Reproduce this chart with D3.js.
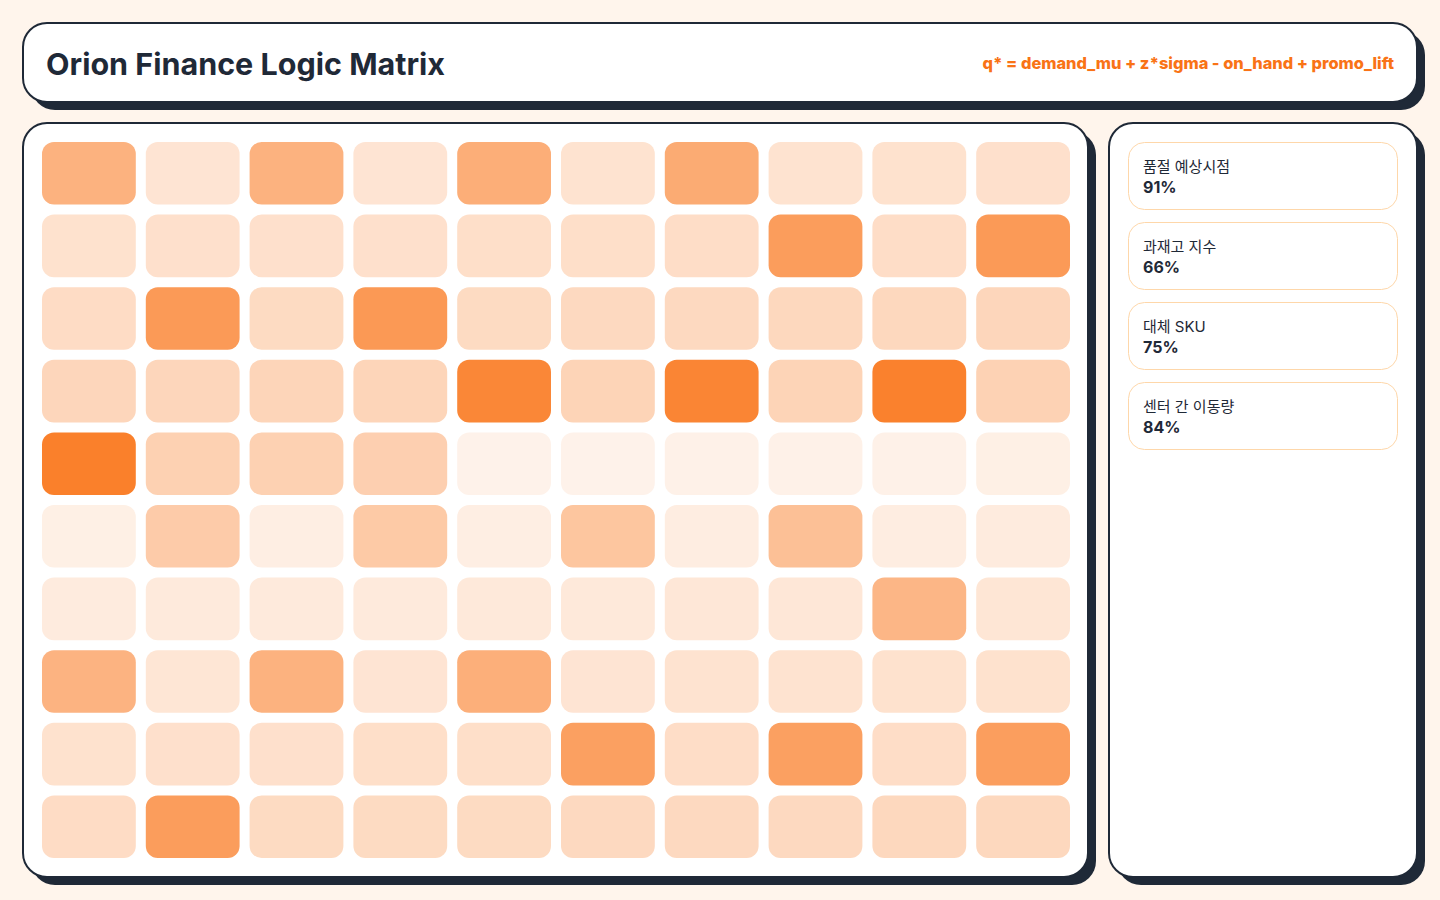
<!DOCTYPE html>
<html>
<head>
<meta charset="utf-8">
<script src="https://cdn.jsdelivr.net/npm/d3@7"></script>
<style>
  html, body { margin: 0; padding: 0; background: #fff5ec; }
  svg { display: block; font-family: Inter, "Noto Sans CJK KR", sans-serif; }
</style>
</head>
<body>
<div id="chart"></div>
<script>
// chart data
const title = "Orion Finance Logic Matrix";
const formula = "q* = demand_mu + z*sigma - on_hand + promo_lift";

const rowIds = d3.range(10);
const colIds = d3.range(10);

// intensity per cell, row by row (0..1)
const cellValues = [
  0.55, 0.19, 0.55, 0.19, 0.58, 0.20, 0.60, 0.20, 0.21, 0.22,
  0.21, 0.22, 0.22, 0.22, 0.23, 0.23, 0.24, 0.70, 0.24, 0.72,
  0.25, 0.72, 0.26, 0.73, 0.26, 0.27, 0.27, 0.28, 0.28, 0.29,
  0.29, 0.29, 0.30, 0.30, 0.86, 0.31, 0.87, 0.31, 0.90, 0.32,
  0.91, 0.33, 0.33, 0.34, 0.09, 0.09, 0.10, 0.10, 0.10, 0.11,
  0.11, 0.37, 0.12, 0.38, 0.12, 0.41, 0.13, 0.45, 0.13, 0.14,
  0.14, 0.15, 0.15, 0.15, 0.16, 0.16, 0.17, 0.17, 0.52, 0.18,
  0.54, 0.18, 0.55, 0.19, 0.57, 0.19, 0.20, 0.20, 0.21, 0.21,
  0.21, 0.22, 0.22, 0.23, 0.23, 0.68, 0.24, 0.68, 0.24, 0.69,
  0.25, 0.70, 0.26, 0.26, 0.26, 0.27, 0.27, 0.27, 0.28, 0.28
];

const kpiLabels = ["품절 예상시점", "과재고 지수", "대체 SKU", "센터 간 이동량"];
const kpiValues = [91, 66, 75, 84];

const W = 1440, H = 900;
const ink = "#1f2937";
const orange = "#f97316";

const svg = d3.select("#chart").append("svg")
  .attr("width", W)
  .attr("height", H);

svg.append("rect").attr("width", W).attr("height", H).attr("fill", "#fff5ec");

// card with hard offset shadow
function card(x, y, w, h, r) {
  const g = svg.append("g");
  g.append("rect")
    .attr("x", x + 8).attr("y", y + 8)
    .attr("width", w).attr("height", h)
    .attr("rx", r)
    .attr("fill", ink);
  g.append("rect")
    .attr("x", x).attr("y", y)
    .attr("width", w).attr("height", h)
    .attr("rx", r)
    .attr("fill", "#fff")
    .attr("stroke", ink)
    .attr("stroke-width", 2);
  return g;
}

// header
const header = card(23, 23, 1394, 79, 24);
header.append("text")
  .attr("x", 46).attr("y", 75)
  .attr("font-size", 30.5)
  .attr("font-weight", 700)
  .attr("fill", ink)
  .text(title);
header.append("text")
  .attr("x", 1394).attr("y", 69)
  .attr("text-anchor", "end")
  .attr("font-size", 16.4)
  .attr("font-weight", 800)
  .attr("fill", orange)
  .text(formula);

// matrix panel
const panel = card(23, 123, 1065, 754, 24);

const x = d3.scaleBand().domain(colIds).range([42, 1070]).paddingInner(10 / 103.8);
const y = d3.scaleBand().domain(rowIds).range([142, 858]).paddingInner(10 / 72.6);
const color = d3.scaleLinear().domain([0, 1]).range(["#ffffff", orange]);

const cells = cellValues.map((v, i) => ({ r: Math.floor(i / 10), c: i % 10, v }));

panel.selectAll("rect.cell")
  .data(cells)
  .join("rect")
  .attr("class", "cell")
  .attr("x", d => x(d.c))
  .attr("y", d => y(d.r))
  .attr("width", x.bandwidth())
  .attr("height", y.bandwidth())
  .attr("rx", 12)
  .attr("fill", d => color(d.v));

// side panel with KPI cards
const side = card(1109, 123, 308, 754, 24);

const ky = d3.scaleBand().domain(d3.range(kpiLabels.length)).range([142, 449]).paddingInner(13 / 80);

const kpi = side.selectAll("g.kpi")
  .data(kpiLabels.map((l, i) => ({ label: l, value: kpiValues[i], i })))
  .join("g")
  .attr("class", "kpi")
  .attr("transform", d => `translate(1128.5,${ky(d.i) + 0.5})`);

kpi.append("rect")
  .attr("width", 269)
  .attr("height", ky.bandwidth())
  .attr("rx", 16)
  .attr("fill", "#fff")
  .attr("stroke", "#fed7aa")
  .attr("stroke-width", 1);

kpi.append("text")
  .attr("x", 14.5).attr("y", 29)
  .attr("font-size", 15)
  .attr("fill", ink)
  .text(d => d.label);

kpi.append("text")
  .attr("x", 14.5).attr("y", 50)
  .attr("font-size", 16)
  .attr("font-weight", 700)
  .attr("fill", ink)
  .text(d => d.value + "%");
</script>
</body>
</html>
